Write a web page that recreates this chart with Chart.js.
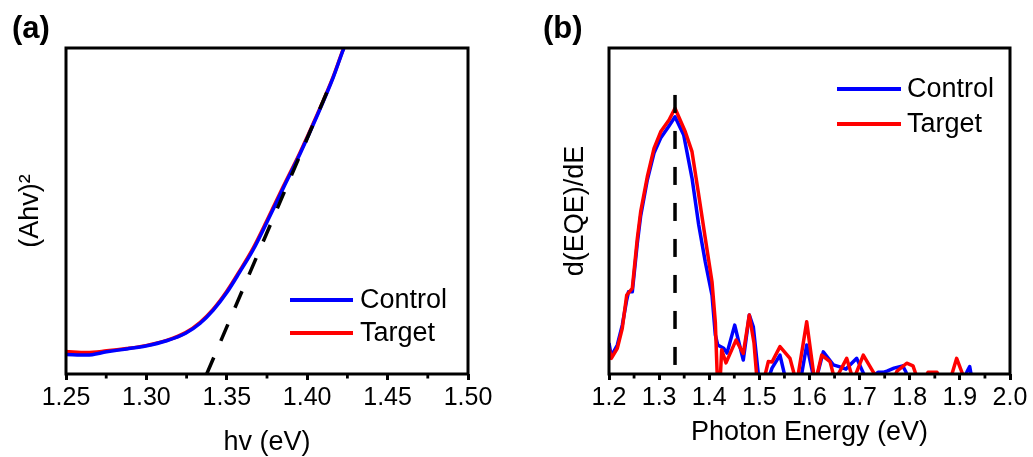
<!DOCTYPE html>
<html>
<head>
<meta charset="utf-8">
<script src="https://cdn.jsdelivr.net/npm/chart.js@4/dist/chart.umd.min.js"></script>
<style>
  html, body { margin: 0; padding: 0; background: #fff; overflow: hidden; }
  #wrap { position: relative; width: 1033px; height: 457px; }
  canvas { position: absolute; top: 0; }
  #chartA { left: 0; }
  #chartB { left: 520px; }
</style>
</head>
<body>
<div id="wrap">
  <canvas id="chartA" width="520" height="457"></canvas>
  <canvas id="chartB" width="513" height="457"></canvas>
</div>
<script>
// ---- (a) Tauc plot: (Ahv)^2 versus photon energy (arbitrary units) ----
const taucEnergy  = [1.25, 1.2629, 1.2753, 1.2877, 1.2996, 1.3126, 1.3244, 1.3333, 1.3416, 1.3499,
                     1.3582, 1.3665, 1.3748, 1.3851, 1.3955, 1.4059, 1.4162, 1.4225, 1.427];
const taucControl = [0.060, 0.058, 0.068, 0.077, 0.086, 0.102, 0.125, 0.155, 0.196, 0.249,
                     0.314, 0.382, 0.464, 0.570, 0.675, 0.789, 0.910, 0.996, 1.05];
const taucTarget  = [0.069, 0.066, 0.071, 0.078, 0.087, 0.103, 0.127, 0.158, 0.199, 0.253,
                     0.318, 0.387, 0.469, 0.575, 0.679, 0.792, 0.912, 0.997, 1.05];
// linear extrapolation of the absorption edge
const taucFitEnergy = [1.3375, 1.4142];
const taucFitValue  = [0, 0.887];
const taucTicks = [1.25, 1.30, 1.35, 1.40, 1.45, 1.50];

// ---- (b) derivative of EQE versus photon energy (arbitrary units) ----
const ctrlEnergy = [1.200, 1.2046, 1.2166, 1.2265, 1.2353, 1.2389, 1.2465, 1.2565, 1.2632, 1.2764,
                    1.2898, 1.3031, 1.3197, 1.3317, 1.3490, 1.3656, 1.3790, 1.3921, 1.4055, 1.4121,
                    1.4169, 1.4288, 1.4354, 1.4508, 1.4588, 1.4679, 1.4799, 1.4879, 1.4999, 1.5146,
                    1.5252, 1.5411, 1.5545, 1.5810, 1.5944, 1.6110, 1.6275, 1.6475, 1.6608, 1.6728,
                    1.6942, 1.7141, 1.7366, 1.7466, 1.7546, 1.7686, 1.7859, 1.7925, 1.7965, 1.9066,
                    1.9146, 1.9196, 1.9246, 2.0];
const ctrlDeriv  = [0.095, 0.055, 0.089, 0.150, 0.227, 0.252, 0.252, 0.402, 0.485, 0.595,
                    0.678, 0.724, 0.761, 0.789, 0.733, 0.601, 0.457, 0.344, 0.242, 0.120,
                    0.089, 0.079, 0.064, 0.150, 0.099, 0.043, 0.181, 0.145, -0.03, -0.03,
                    0.018, 0.058, -0.03, -0.03, 0.089, -0.03, 0.068, 0.028, 0.022, 0.015,
                    0.048, -0.02, 0.005, 0.005, 0.009, 0.018, 0.025, 0.006, -0.02, -0.02,
                    0.008, 0.023, -0.02, -0.02];
const tgtEnergy  = [1.200, 1.2046, 1.2166, 1.2265, 1.2353, 1.2465, 1.2565, 1.2632, 1.2764, 1.2898,
                    1.3031, 1.3197, 1.3317, 1.3522, 1.3656, 1.3790, 1.3921, 1.4055, 1.4121, 1.4165,
                    1.4214, 1.4248, 1.4334, 1.4534, 1.4679, 1.4799, 1.4893, 1.4959, 1.5072, 1.5178,
                    1.5252, 1.5411, 1.5611, 1.5745, 1.5944, 1.6110, 1.6243, 1.6409, 1.6509, 1.6742,
                    1.6874, 1.7073, 1.7273, 1.7347, 1.7666, 1.7746, 1.7939, 1.8065, 1.8165, 1.8284,
                    1.8364, 1.8544, 1.8623, 1.8803, 1.8936, 1.9102, 2.0];
const tgtDeriv   = [0.079, 0.048, 0.079, 0.140, 0.242, 0.263, 0.416, 0.498, 0.605, 0.692,
                    0.743, 0.779, 0.815, 0.743, 0.682, 0.549, 0.416, 0.283, 0.160, -0.03,
                    -0.03, 0.074, 0.034, 0.104, 0.063, 0.181, 0.095, -0.03, -0.03, 0.038,
                    0.037, 0.084, 0.048, -0.03, 0.160, -0.03, 0.058, 0.038, -0.02, 0.048,
                    -0.02, 0.058, 0.006, -0.02, -0.02, 0.009, 0.033, 0.025, -0.02, -0.02,
                    0.005, 0.005, -0.02, -0.02, 0.048, -0.02, -0.02];
// band-gap marker at the derivative maximum
const peakEnergy = [1.3317, 1.3317];
const peakValue  = [0.856, 0];
const eqeTicks = [1.2, 1.3, 1.4, 1.5, 1.6, 1.7, 1.8, 1.9, 2.0];

const FONT = '"Liberation Sans", Arial, Helvetica, sans-serif';
const BLUE = '#0000ff';
const RED = '#ff0000';
const LINE_W = 3.5;

const pts = (xs, ys) => xs.map((x, i) => ({ x: x, y: ys[i] }));

// closed black frame around the plotting area
const framePlugin = {
  id: 'frame',
  afterDatasetsDraw(chart) {
    const { ctx, chartArea: a } = chart;
    ctx.save();
    ctx.strokeStyle = '#000';
    ctx.lineWidth = 3;
    ctx.strokeRect(a.left, a.top, a.right - a.left, a.bottom - a.top);
    ctx.restore();
  }
};

// short minor ticks halfway between the labelled ticks
const minorTicksPlugin = {
  id: 'minorTicks',
  afterDraw(chart) {
    const sx = chart.scales.x;
    const ticks = sx.ticks;
    const ctx = chart.ctx;
    const y0 = chart.chartArea.bottom;
    ctx.save();
    ctx.strokeStyle = '#000';
    ctx.lineWidth = 2.8;
    for (let i = 0; i < ticks.length - 1; i++) {
      const px = sx.getPixelForValue((ticks[i].value + ticks[i + 1].value) / 2);
      ctx.beginPath();
      ctx.moveTo(px, y0);
      ctx.lineTo(px, y0 + 4.5);
      ctx.stroke();
    }
    ctx.restore();
  }
};

// legend with a line sample followed by the series name
const lineLegendPlugin = {
  id: 'lineLegend',
  afterDraw(chart, args, opts) {
    const ctx = chart.ctx;
    ctx.save();
    ctx.font = '27px ' + FONT;
    ctx.textBaseline = 'middle';
    ctx.textAlign = 'left';
    opts.labels.forEach((name, i) => {
      const ds = chart.data.datasets.find(d => d.label === name);
      const y = opts.y + i * opts.gap;
      ctx.strokeStyle = ds.borderColor;
      ctx.lineWidth = 4;
      ctx.beginPath();
      ctx.moveTo(opts.x, y);
      ctx.lineTo(opts.x + opts.len, y);
      ctx.stroke();
      ctx.fillStyle = '#000';
      ctx.fillText(name, opts.x + opts.len + opts.textGap, y + 1);
    });
    ctx.restore();
  }
};

// bold panel letter
const panelTagPlugin = {
  id: 'panelTag',
  afterDraw(chart, args, opts) {
    const ctx = chart.ctx;
    ctx.save();
    ctx.font = 'bold 31px ' + FONT;
    ctx.fillStyle = '#000';
    ctx.textBaseline = 'middle';
    ctx.textAlign = 'left';
    ctx.fillText(opts.text, opts.x, opts.y);
    ctx.restore();
  }
};

function xScale(min, max, step, digits, title, titlePadBottom) {
  return {
    type: 'linear',
    min: min,
    max: max,
    ticks: {
      stepSize: step,
      autoSkip: false,
      maxRotation: 0,
      padding: 3,
      color: '#000',
      font: { family: FONT, size: 25 },
      callback: v => Number(v).toFixed(digits)
    },
    grid: {
      display: true,
      drawOnChartArea: false,
      drawTicks: true,
      tickLength: 6,
      tickWidth: 3,
      tickColor: '#000'
    },
    border: { display: false },
    title: {
      display: true,
      text: title,
      color: '#000',
      font: { family: FONT, size: 27 },
      padding: { top: 0, bottom: titlePadBottom }
    },
    afterFit(scale) { scale.height = 83; }
  };
}

function yScale(title, titlePadTop, width) {
  return {
    type: 'linear',
    min: 0,
    max: 1,
    ticks: { display: false },
    grid: { display: false },
    border: { display: false },
    title: {
      display: true,
      text: title,
      color: '#000',
      font: { family: FONT, size: 27 },
      padding: { top: titlePadTop, bottom: 0 }
    },
    afterFit(scale) { scale.width = width; }
  };
}

const common = {
  responsive: false,
  animation: false,
  devicePixelRatio: 1,
  events: []
};

new Chart(document.getElementById('chartA'), {
  type: 'line',
  data: {
    datasets: [
      { label: 'fit', data: pts(taucFitEnergy, taucFitValue), borderColor: '#000', borderWidth: LINE_W,
        borderDash: [18, 18], pointRadius: 0 },
      { label: 'Control', data: pts(taucEnergy, taucControl), borderColor: BLUE, borderWidth: LINE_W,
        pointRadius: 0, cubicInterpolationMode: 'monotone', borderJoinStyle: 'round' },
      { label: 'Target', data: pts(taucEnergy, taucTarget), borderColor: RED, borderWidth: LINE_W,
        pointRadius: 0, cubicInterpolationMode: 'monotone', borderJoinStyle: 'round' }
    ]
  },
  options: Object.assign({}, common, {
    layout: { padding: { left: 0, top: 48, right: 52, bottom: 0 } },
    scales: {
      x: xScale(taucTicks[0], taucTicks[taucTicks.length - 1], 0.05, 2, 'hv (eV)', -2),
      y: yScale('(Ahv)²', 14, 66)
    },
    plugins: {
      legend: { display: false },
      tooltip: { enabled: false },
      lineLegend: { labels: ['Control', 'Target'], x: 290, y: 300, gap: 33, len: 63, textGap: 7 },
      panelTag: { text: '(a)', x: 12, y: 29 }
    }
  }),
  plugins: [framePlugin, minorTicksPlugin, lineLegendPlugin, panelTagPlugin]
});

new Chart(document.getElementById('chartB'), {
  type: 'line',
  data: {
    datasets: [
      { label: 'peak', data: pts(peakEnergy, peakValue), borderColor: '#000', borderWidth: LINE_W,
        borderDash: [18, 18], pointRadius: 0 },
      { label: 'Target', data: pts(tgtEnergy, tgtDeriv), borderColor: RED, borderWidth: LINE_W,
        pointRadius: 0, tension: 0, borderJoinStyle: 'round' },
      { label: 'Control', data: pts(ctrlEnergy, ctrlDeriv), borderColor: BLUE, borderWidth: LINE_W,
        pointRadius: 0, tension: 0, borderJoinStyle: 'round' }
    ]
  },
  options: Object.assign({}, common, {
    layout: { padding: { left: 0, top: 48, right: 23, bottom: 0 } },
    scales: {
      x: xScale(eqeTicks[0], eqeTicks[eqeTicks.length - 1], 0.1, 1, 'Photon Energy (eV)', 8),
      y: yScale('d(EQE)/dE', 39, 89)
    },
    plugins: {
      legend: { display: false },
      tooltip: { enabled: false },
      lineLegend: { labels: ['Control', 'Target'], x: 317, y: 89, gap: 35, len: 64, textGap: 6 },
      panelTag: { text: '(b)', x: 23, y: 29 }
    }
  }),
  plugins: [framePlugin, minorTicksPlugin, lineLegendPlugin, panelTagPlugin]
});
</script>
</body>
</html>
